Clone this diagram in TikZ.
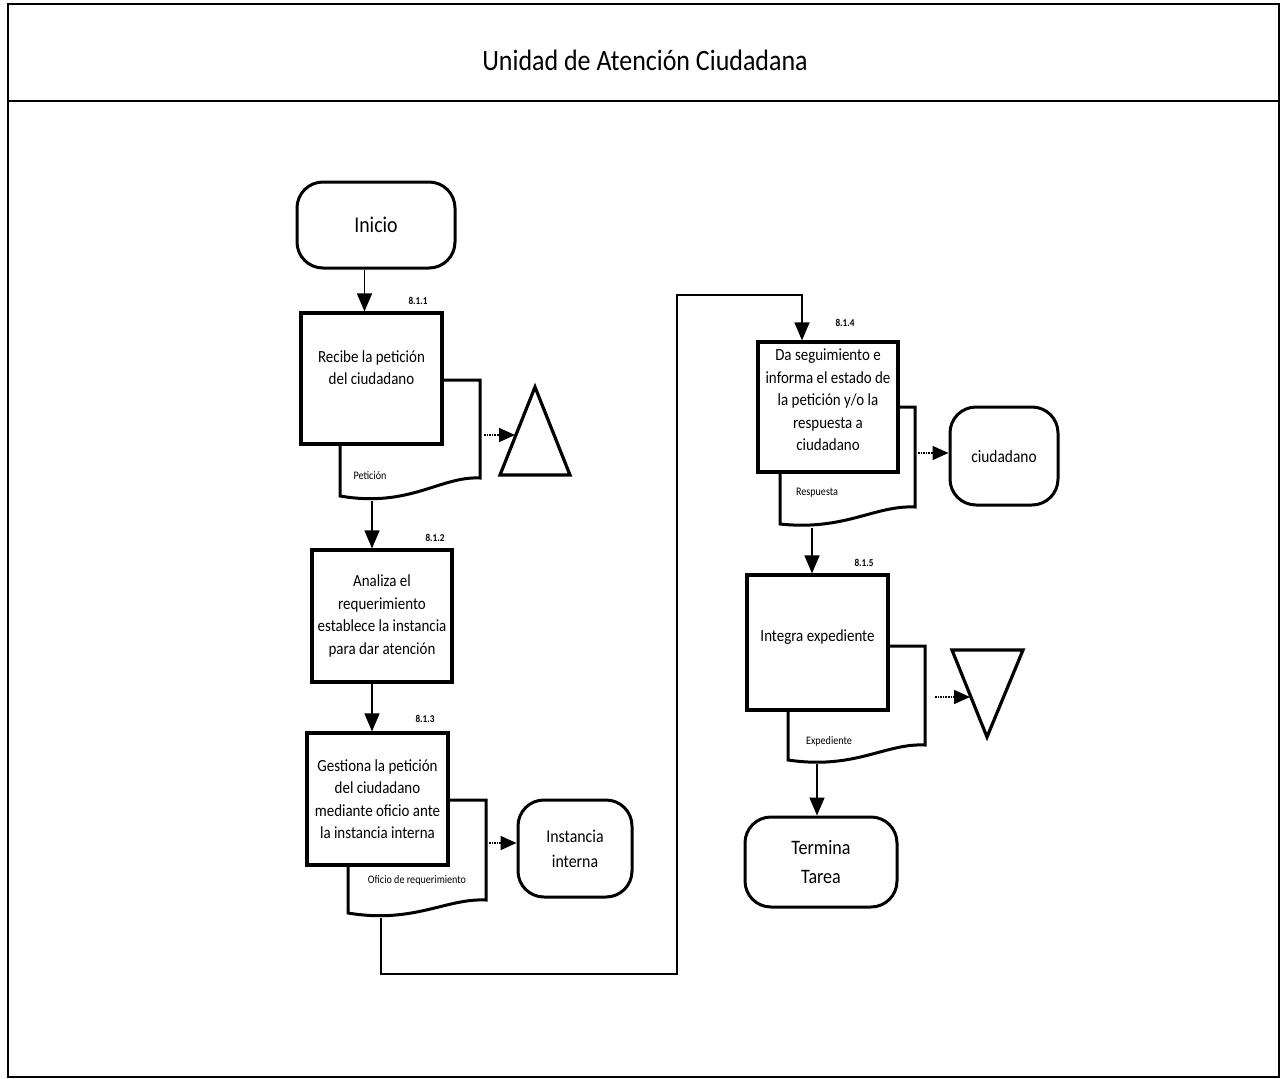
\documentclass[tikz,border=0pt]{standalone}
\usepackage{fontspec}
\setmainfont{Carlito}[FakeStretch=0.88]
\usetikzlibrary{arrows.meta}
\begin{document}
\begin{tikzpicture}[x=1pt,y=-1pt,
  proc/.style={draw,line width=3.2pt,fill=white,align=center,inner sep=1pt,
    font=\fontsize{17}{22.5}\selectfont},
  boxtext/.style={align=center,inner sep=0pt,font=\fontsize{17}{22.5}\selectfont},
  term/.style={draw,line width=3pt,fill=white,rounded corners=26pt,align=center},
  docshape/.style={draw,line width=3pt,fill=white},
  conn/.style={line width=1.6pt,-{Triangle[length=18pt,width=15pt]}},
  side/.style={line width=1.6pt,densely dotted,-{Triangle[length=16pt,width=14pt]}},
  num/.style={font=\bfseries\fontsize{10.5}{11}\selectfont},
  dlab/.style={font=\fontsize{11.5}{12}\selectfont},
  tri/.style={draw,line width=3.2pt,line join=miter}]
\useasboundingbox (0,0) rectangle (1283,1079);
% frame
\draw[line width=2.6pt] (8,4) rectangle (1279,1077);
\draw[line width=2.2pt] (8,101) -- (1279,101);
\node (title) at (645,60) {\fontsize{29.5}{32}\selectfont Unidad de Atención Ciudadana};

% start
\node[term,minimum width=158pt,minimum height=86pt,font=\fontsize{22.5}{26}\selectfont] (inicio) at (376,225) {Inicio};

% documents (behind boxes)
\draw[docshape] (420,380) -- (480,380) -- (480,478)
  .. controls (440,476) and (410,508) .. (340,496) -- (340,430) -- cycle;
\coordinate (d1b) at (372,501);
\coordinate (d1r) at (484,435);
\node[dlab] (lab1) at (370,476) {Petición};

\draw[docshape] (430,800) -- (486,800) -- (486,900)
  .. controls (446,898) and (414,924) .. (348,913) -- (348,850) -- cycle;
\coordinate (d2b) at (381,918);
\coordinate (d2r) at (489,843);
\node[dlab] (lab2) at (417,880) {Oficio de requerimiento};

\draw[docshape] (880,407) -- (915,407) -- (915,507)
  .. controls (875,505) and (845,531) .. (780,524) -- (780,460) -- cycle;
\coordinate (d3b) at (812,528);
\coordinate (d3r) at (918,453);
\node[dlab] (lab3) at (817,493) {Respuesta};

\draw[docshape] (870,646) -- (925,646) -- (925,745)
  .. controls (885,743) and (855,770) .. (788,760) -- (788,700) -- cycle;
\coordinate (d4b) at (817,764);
\coordinate (d4r) at (935,697);
\node[dlab] (lab4) at (829,741) {Expediente};

% process boxes
\node[proc,minimum width=141pt,minimum height=131pt] (b1) at (371.5,378.5) {};
\node[boxtext] (b1t) at ([yshift=11pt]b1.center) {Recibe la petición\\del ciudadano};
\node[num] (n1) at (418,301) {8.1.1};
\node[proc,minimum width=140pt,minimum height=132pt] (b2) at (382,616)
  {Analiza el\\requerimiento\\establece la instancia\\para dar atención};
\node[num] (n2) at (435,538) {8.1.2};
\node[proc,minimum width=141pt,minimum height=132pt] (b3) at (377.5,799)
  {Gestiona la petición\\del ciudadano\\mediante oficio ante\\la instancia interna};
\node[num] (n3) at (425,719) {8.1.3};
\node[proc,minimum width=140pt,minimum height=130pt] (b4) at (828,407) {};
\node[boxtext] (b4t) at ([yshift=7pt]b4.center)
  {Da seguimiento e\\informa el estado de\\la petición y/o la\\respuesta a\\ciudadano};
\node[num] (n4) at (845,323) {8.1.4};
\node[proc,minimum width=141pt,minimum height=135pt] (b5) at (817.5,642.5) {};
\node[boxtext] (b5t) at ([yshift=5pt]b5.center) {Integra expediente};
\node[num] (n5) at (864,563) {8.1.5};

% terminals
\node[term,minimum width=114pt,minimum height=97pt,font=\fontsize{18}{25}\selectfont] (inst) at (575,848.5) {Instancia\\interna};
\node[term,minimum width=108pt,minimum height=98pt,font=\fontsize{17.5}{19}\selectfont] (ciud) at (1004,456) {ciudadano};
\node[term,minimum width=152pt,minimum height=90pt,font=\fontsize{20.5}{29}\selectfont] (fin) at (821,862) {Termina\\Tarea};

% triangles
\draw[tri] (535,387) -- (570,475) -- (500,475) -- cycle;
\coordinate (t1) at (515,435);
\draw[tri] (952,650) -- (1023,650) -- (987,737) -- cycle;
\coordinate (t2) at (970,697);

% connectors
\draw[conn] ([xshift=-7pt]b1.north |- inicio.south) -- ([xshift=-7pt]b1.north);
\draw[conn] (d1b) -- (d1b |- b2.north);
\draw[conn] ([xshift=-10pt]b2.south) -- ([xshift=-10pt]b2.south |- b3.north);
\coordinate (loopb) at (677,974);
\coordinate (loopt) at (677,295);
\draw[conn] (d2b) |- (loopb) -- (loopt) -| ([xshift=-26pt]b4.north);
\draw[conn] (d3b) -- (d3b |- b5.north);
\draw[conn] (d4b) -- (d4b |- fin.north);
\draw[side] (d1r) -- (t1);
\draw[side] (d2r) -- (d2r -| inst.west);
\draw[side] (d3r) -- (d3r -| ciud.west);
\draw[side] (d4r) -- (t2);
\end{tikzpicture}
\end{document}
